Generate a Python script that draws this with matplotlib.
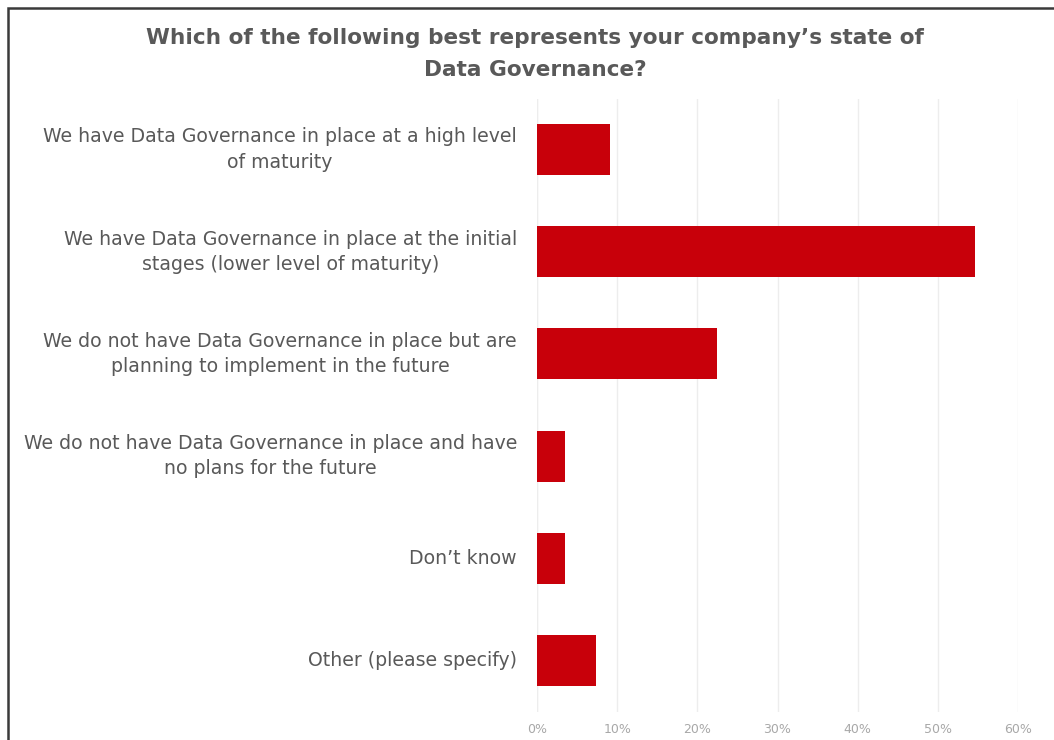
import matplotlib
matplotlib.use("Agg")
import matplotlib.pyplot as plt
import matplotlib.patches as patches
import numpy as np

plt.rcParams["font.family"] = ["DejaVu Sans"]

W, H = 1054, 740

categories = [
    "We have Data Governance in place at a high level\nof maturity",
    "We have Data Governance in place at the initial\nstages (lower level of maturity)",
    "We do not have Data Governance in place but are\nplanning to implement in the future",
    "We do not have Data Governance in place and have\nno plans for the future",
    "Don\u2019t know",
    "Other (please specify)",
]
shares = [9.1, 54.6, 22.5, 3.5, 3.5, 7.3]
ticks = [0, 10, 20, 30, 40, 50, 60]
tick_labels = ["0%", "10%", "20%", "30%", "40%", "50%", "60%"]

TITLE = "Which of the following best represents your company\u2019s state of\nData Governance?"
BAR_COLOR = "#c8000a"
TEXT_COLOR = "#595959"

fig = plt.figure(figsize=(W / 100, H / 100), dpi=100)
fig.patch.set_facecolor("white")

# plot area in pixels: x 537..1018, y 98..712
left, right, top, bottom = 537, 1018, 98.5, 711.5
ax = fig.add_axes([left / W, 1 - bottom / H, (right - left) / W, (bottom - top) / H])

y = np.arange(len(categories))
ax.barh(y, shares, height=0.5, color=BAR_COLOR, zorder=3)
ax.set_ylim(len(categories) - 0.5, -0.5)
ax.set_xlim(0, 60)

ax.set_xticks(ticks)
ax.set_xticklabels(tick_labels, fontsize=9, color="#a8a8a8")
ax.tick_params(axis="x", length=0, pad=8)
ax.set_yticks(y)
ax.set_yticklabels([])
ax.tick_params(axis="y", length=0)
ax.grid(axis="x", color="#ededed", linewidth=1, zorder=0)
for s in ax.spines.values():
    s.set_visible(False)
ax.axvline(0, color="#f0f0f0", linewidth=1, zorder=1)

# category labels, right aligned next to the bars
for yi, label in zip(y, categories):
    ax.annotate(label, xy=(0, yi), xycoords="data", xytext=(-20, 0),
                textcoords="offset pixels", ha="right", va="center",
                multialignment="center", fontsize=13.6, color=TEXT_COLOR,
                linespacing=1.42, annotation_clip=False)

fig.text(0.508, 1 - 54 / H, TITLE, ha="center", va="center",
         fontsize=15.6, fontweight="bold", color=TEXT_COLOR, linespacing=1.72)

# dark frame around the chart
frame = patches.Rectangle((8 / W, -0.05), 1.1, 1 - 8 / H + 0.05,
                          transform=fig.transFigure, fill=False,
                          edgecolor="#3a3a3a", linewidth=1.8, clip_on=False)
fig.patches.append(frame)

fig.savefig("out.png", dpi=100, facecolor="white")
